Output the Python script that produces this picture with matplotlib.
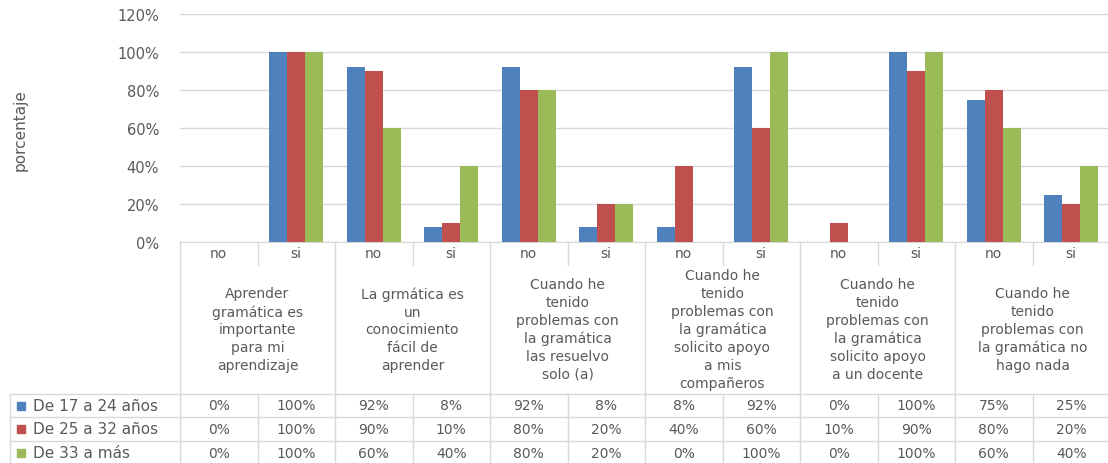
import numpy as np
import matplotlib.pyplot as plt
from matplotlib.lines import Line2D
from matplotlib.patches import Rectangle
from matplotlib.transforms import blended_transform_factory

# survey answers per statement, split into "no" / "si"
answers = ["no", "si"] * 6
statements = [
    "Aprender\ngramática es\nimportante\npara mi\naprendizaje",
    "La grmática es\nun\nconocimiento\nfácil de\naprender",
    "Cuando he\ntenido\nproblemas con\nla gramática\nlas resuelvo\nsolo (a)",
    "Cuando he\ntenido\nproblemas con\nla gramática\nsolicito apoyo\na mis\ncompañeros",
    "Cuando he\ntenido\nproblemas con\nla gramática\nsolicito apoyo\na un docente",
    "Cuando he\ntenido\nproblemas con\nla gramática no\nhago nada",
]
series_names = ["De 17 a 24 años", "De 25 a 32 años", "De 33 a más"]
age_17_24 = [0, 100, 92, 8, 92, 8, 8, 92, 0, 100, 75, 25]
age_25_32 = [0, 100, 90, 10, 80, 20, 40, 60, 10, 90, 80, 20]
age_33_up = [0, 100, 60, 40, 80, 20, 0, 100, 0, 100, 60, 40]
yticks = [0, 20, 40, 60, 80, 100, 120]

colors = ["#4F81BD", "#C0504D", "#9BBB59"]
grid_c = "#D9D9D9"
text_c = "#595959"
W, H = 1108, 464

fig = plt.figure(figsize=(W / 100, H / 100), dpi=100)
ax = fig.add_axes([180 / W, 1 - 243 / H, 930 / W, 228 / H])

series = [age_17_24, age_25_32, age_33_up]
x = np.arange(len(answers))
bw = 0.233
for k, (vals, c) in enumerate(zip(series, colors)):
    ax.bar(x + (k - 1) * bw, vals, width=bw, color=c, zorder=3)

ax.set_xlim(-0.5, len(answers) - 0.5)
ax.set_ylim(0, 120)
ax.set_yticks(yticks)
ax.set_yticklabels([f"{v}%" for v in yticks], color=text_c, fontsize=10.5)
ax.tick_params(axis="y", length=0, pad=15)
ax.set_xticks([])
ax.grid(axis="y", color=grid_c, linewidth=1, zorder=0)
for s in ["top", "right", "left"]:
    ax.spines[s].set_visible(False)
ax.spines["bottom"].set_color(grid_c)

fig.text(20 / W, 1 - 130 / H, "porcentaje", rotation=90, ha="center",
         va="center", color=text_c, fontsize=11)

# data table under the chart: x in data units, y in pixels from the top
tr = blended_transform_factory(ax.transData, fig.transFigure)
figtr = fig.transFigure


def fy(py):
    return 1 - py / H


def vline(xv, py0, py1):
    fig.add_artist(Line2D([xv, xv], [fy(py0), fy(py1)], transform=tr,
                          color=grid_c, linewidth=1))


rows_top = [395, 418, 442, 466]
n = len(answers)
for i in range(n + 1):
    b = i - 0.5
    if i % 2 == 0:
        vline(b, 243, 466)
    else:
        vline(b, 243, 266)
        vline(b, 395, 466)

for py in rows_top[:3]:
    fig.add_artist(Line2D([10 / W, 1], [fy(py), fy(py)], transform=figtr,
                          color=grid_c, linewidth=1))
fig.add_artist(Line2D([10 / W, 10 / W], [fy(395), fy(466)], transform=figtr,
                      color=grid_c, linewidth=1))

for i, a in enumerate(answers):
    fig.text(i, fy(254), a, transform=tr, ha="center", va="center",
             color=text_c, fontsize=10)

for g, lab in enumerate(statements):
    fig.text(2 * g + 0.5, fy(330), lab, transform=tr, ha="center",
             va="center", color=text_c, fontsize=10, linespacing=1.34)

for r, (name, vals, c) in enumerate(zip(series_names, series, colors)):
    yc = (rows_top[r] + rows_top[r + 1]) / 2
    fig.add_artist(Rectangle((17 / W, fy(yc) - 4 / H), 8 / W, 8 / H,
                             transform=figtr, color=c))
    fig.text(33 / W, fy(yc), name, transform=figtr, ha="left", va="center",
             color=text_c, fontsize=11)
    for i, v in enumerate(vals):
        fig.text(i, fy(yc), f"{v}%", transform=tr, ha="center", va="center",
                 color=text_c, fontsize=10)

fig.savefig("out.png", dpi=100)
